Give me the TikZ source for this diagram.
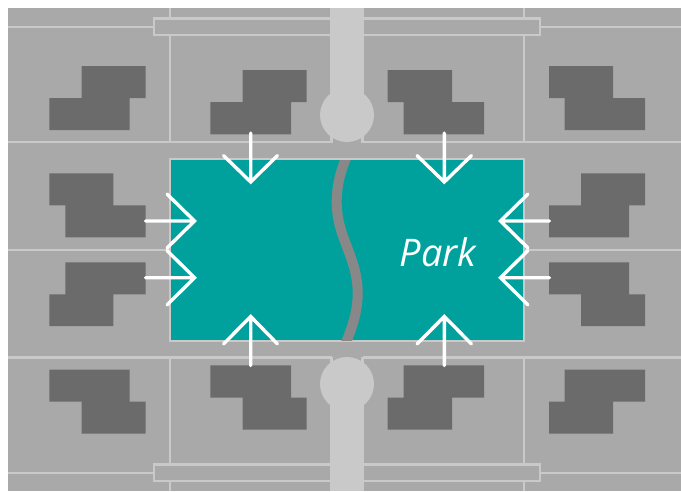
\documentclass[tikz,border=0pt]{standalone}
\usepackage{fontspec}
\newfontfamily\parkfont{Open Sans}
\definecolor{lot}{HTML}{A9A9A9}
\definecolor{edge}{HTML}{C9C9C9}
\definecolor{house}{HTML}{6B6B6B}
\definecolor{parkgreen}{HTML}{00A19D}
\definecolor{trail}{HTML}{888888}
\tikzset{
  lotline/.style={draw=edge,line width=2.3pt},
  house/.style={fill=house,draw=none},
  access/.style={draw=white,line width=3.4pt,line cap=round,line join=miter},
}
\begin{document}
\begin{tikzpicture}[x=1pt,y=-1pt]
\useasboundingbox (0,0) rectangle (681,491);
\fill[white] (0,0) rectangle (681,491);
\fill[lot] (8,8) rectangle (681,491);
% lot lines
\draw[lotline] (8,26.7) -- (154,26.7);
\draw[lotline] (540,26.7) -- (681,26.7);
\draw[lotline] (8,472.7) -- (154,472.7);
\draw[lotline] (540,472.7) -- (681,472.7);
\draw[lotline] (170,8) -- (170,18.5) (170,35) -- (170,142);
\draw[lotline] (524,8) -- (524,18.5) (524,35) -- (524,142);
\draw[lotline] (170,357.5) -- (170,464.5) (170,480.7) -- (170,491);
\draw[lotline] (524,357.5) -- (524,464.5) (524,480.7) -- (524,491);
\draw[lotline] (8,142) -- (331.5,142) (362.5,142) -- (681,142);
\draw[lotline] (8,357.5) -- (331.5,357.5) (362.5,357.5) -- (681,357.5);
\draw[lotline] (8,249.7) -- (170,249.7) (524,249.7) -- (681,249.7);
\draw[lotline] (331.5,143) -- (331.5,135) (362.5,143) -- (362.5,135);
\draw[lotline] (331.5,356.5) -- (331.5,365) (362.5,356.5) -- (362.5,365);
\draw[lotline] (154,18.5) rectangle (540,35);
\draw[lotline] (154,464.5) rectangle (540,480.7);
% roads
\fill[edge] (330,8) rectangle (364,115);
\fill[edge] (347,115) circle [radius=27];
\fill[edge] (330,384) rectangle (364,491);
\fill[edge] (347,384) circle [radius=27];
% park
\draw[lotline,fill=parkgreen] (170,159) rectangle (524,341);
\begin{scope}
\clip (171,160) rectangle (523,340);
\draw[trail,line width=10pt] (349,152) .. controls (341,168) and (336.7,185) .. (336.7,202) .. controls (336.7,222) and (343,236) .. (347,247) .. controls (352,260) and (357.7,275) .. (357.7,293) .. controls (357.7,312) and (352,328) .. (345,345);
\end{scope}
% houses
\fill[house] (81.7,66)--(145.7,66)--(145.7,98)--(129.7,98)--(129.7,130)--(49.3,130)--(49.3,98)--(81.7,98)--cycle;
\fill[house] (242.7,70)--(306.7,70)--(306.7,102)--(291,102)--(291,134.3)--(210.3,134.3)--(210.3,102)--(242.7,102)--cycle;
\fill[house] (387.7,70)--(452,70)--(452,102)--(484,102)--(484,134.3)--(403.7,134.3)--(403.7,102)--(387.7,102)--cycle;
\fill[house] (549,66)--(613,66)--(613,98)--(645,98)--(645,130)--(564.7,130)--(564.7,98)--(549,98)--cycle;
\fill[house] (49.3,173.3)--(113.3,173.3)--(113.3,205.3)--(145.7,205.3)--(145.7,237.3)--(65.3,237.3)--(65.3,205.3)--(49.3,205.3)--cycle;
\fill[house] (581,173.3)--(645,173.3)--(645,205.3)--(629,205.3)--(629,237.3)--(549,237.3)--(549,205.3)--(581,205.3)--cycle;
\fill[house] (65.3,262.3)--(145.7,262.3)--(145.7,294.3)--(113.3,294.3)--(113.3,326)--(49.3,326)--(49.3,294.3)--(65.3,294.3)--cycle;
\fill[house] (549,262.3)--(629,262.3)--(629,294.3)--(645,294.3)--(645,326)--(581,326)--(581,294.3)--(549,294.3)--cycle;
\fill[house] (49.3,369.7)--(129.7,369.7)--(129.7,401.7)--(145.7,401.7)--(145.7,433.7)--(81.7,433.7)--(81.7,401.7)--(49.3,401.7)--cycle;
\fill[house] (210.3,365.3)--(291,365.3)--(291,397.7)--(306.7,397.7)--(306.7,429.7)--(242.7,429.7)--(242.7,397.7)--(210.3,397.7)--cycle;
\fill[house] (403.7,365.3)--(484,365.3)--(484,397.7)--(452,397.7)--(452,429.7)--(387.7,429.7)--(387.7,397.7)--(403.7,397.7)--cycle;
\fill[house] (564.7,369.7)--(645,369.7)--(645,401.7)--(613,401.7)--(613,433.7)--(549,433.7)--(549,401.7)--(564.7,401.7)--cycle;
% access arrows
\draw[access] (250.7,133) -- (250.7,182) (223.5,155.5) -- (250.7,182) -- (277.5,155.5);
\draw[access] (444.3,133) -- (444.3,182) (417,155.5) -- (444.3,182) -- (471.5,155.5);
\draw[access] (250.7,365.5) -- (250.7,316.5) (223.5,344) -- (250.7,316.5) -- (277.5,344);
\draw[access] (444.3,365.5) -- (444.3,316.5) (417,344) -- (444.3,316.5) -- (471.5,344);
\draw[access] (145.5,221) -- (194.5,221) (167,194) -- (194.5,221) -- (167,248);
\draw[access] (145.5,277.7) -- (194.5,277.7) (167,250.5) -- (194.5,277.7) -- (167,305);
\draw[access] (549.5,221) -- (500.5,221) (528,194) -- (500.5,221) -- (528,248);
\draw[access] (549.5,277.7) -- (500.5,277.7) (528,250.5) -- (500.5,277.7) -- (528,305);
% label
\node[text=white,inner sep=0pt,anchor=base,font=\parkfont\itshape\fontsize{38}{38}\selectfont] (parklabel) at (438,266) {Park};
\end{tikzpicture}
\end{document}
